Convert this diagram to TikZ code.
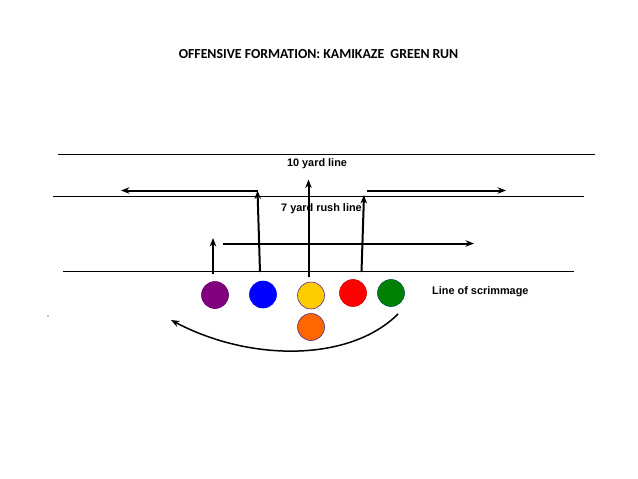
\documentclass[tikz,border=0pt]{standalone}
\usepackage{fontspec}
\setmainfont{Liberation Sans}
\newfontfamily\titlefont{Carlito}
\usetikzlibrary{arrows.meta}
\definecolor{cpurple}{HTML}{800080}
\definecolor{cblue}{HTML}{0000FF}
\definecolor{cyellow}{HTML}{FFCC00}
\definecolor{cred}{HTML}{FF0000}
\definecolor{cgreen}{HTML}{008000}
\definecolor{corange}{HTML}{FF6600}
\definecolor{cborder}{HTML}{5A2D82}
\tikzset{
  fieldline/.style={line width=1pt, black},
  route/.style={line width=2pt, black, -{Stealth[length=8.5pt,width=6.5pt]}},
  player/.style={circle, minimum size=27pt, inner sep=0pt, line width=0.6pt},
  lbl/.style={font=\fontsize{10.9}{12}\selectfont\bfseries, inner sep=0pt},
}
\begin{document}
\begin{tikzpicture}[x=1pt,y=-1pt]
\useasboundingbox[fill=white] (0,0) rectangle (638,479);
% title
\node[inner sep=0pt, font=\titlefont\bfseries\fontsize{13.8}{16}\selectfont] (title) at (318.5,54.5) {OFFENSIVE FORMATION: KAMIKAZE\ \ GREEN RUN};
% field lines
\coordinate (ten-l) at (58,154.5);
\coordinate (ten-r) at (595,154.5);
\coordinate (sev-l) at (53,196.5);
\coordinate (sev-r) at (584,196.5);
\coordinate (los-l) at (63,271.5);
\coordinate (los-r) at (574,271.5);
\draw[fieldline] (ten-l) -- (ten-r);
\draw[fieldline] (sev-l) -- (sev-r);
\draw[fieldline] (los-l) -- (los-r);
% labels
\node[lbl] (tenlbl) at (317,164) {10 yard line};
\node[lbl] (sevlbl) at (321.5,208.5) {7 yard rush line};
\node[lbl, anchor=west] (loslbl) at (432,291.5) {Line of scrimmage};
% players
\node[player, fill=cpurple, draw=cpurple!80!black] (purple) at (215,295) {};
\node[player, fill=cblue, draw=cblue] (blue) at (263,294.5) {};
\node[player, fill=cyellow, draw=cborder] (yellow) at (311,295.5) {};
\node[player, fill=cred, draw=cred!85!black] (red) at (353,293) {};
\node[player, fill=cgreen, draw=cgreen!70!blue] (green) at (391,293) {};
\node[player, fill=corange, draw=cborder] (orange) at (311,327) {};
% routes
\coordinate (p-s) at (213,274);
\coordinate (p-e) at (213,238);
\draw[route] (p-s) -- (p-e);
\coordinate (b-s) at (260,272);
\coordinate (b-c) at (257.5,190.5);
\coordinate (b-e) at (121,190.5);
\draw[route] (b-s) -- (b-c);
\draw[route] (b-c) -- (b-e);
\coordinate (y-s) at (308.5,277);
\coordinate (y-e) at (308.5,179.5);
\draw[route] (y-s) -- (y-e);
\coordinate (r-s) at (361.5,272);
\coordinate (r-e) at (364,195);
\draw[route] (r-s) -- (r-e);
\coordinate (r2-s) at (367,190.5);
\coordinate (r2-e) at (506,190.5);
\draw[route] (r2-s) -- (r2-e);
\coordinate (m-s) at (223,243.5);
\coordinate (m-e) at (474,243.5);
\draw[route] (m-s) -- (m-e);
% sweep arc
\coordinate (a-s) at (398,314);
\coordinate (a-e) at (171,320);
\draw[line width=1.5pt, -{Stealth[length=8.5pt,width=6.5pt]}] (a-s) .. controls (350,362) and (250,362) .. (a-e);
% stray dot
\fill[black] (48,316) circle (0.6);
\end{tikzpicture}
\end{document}
